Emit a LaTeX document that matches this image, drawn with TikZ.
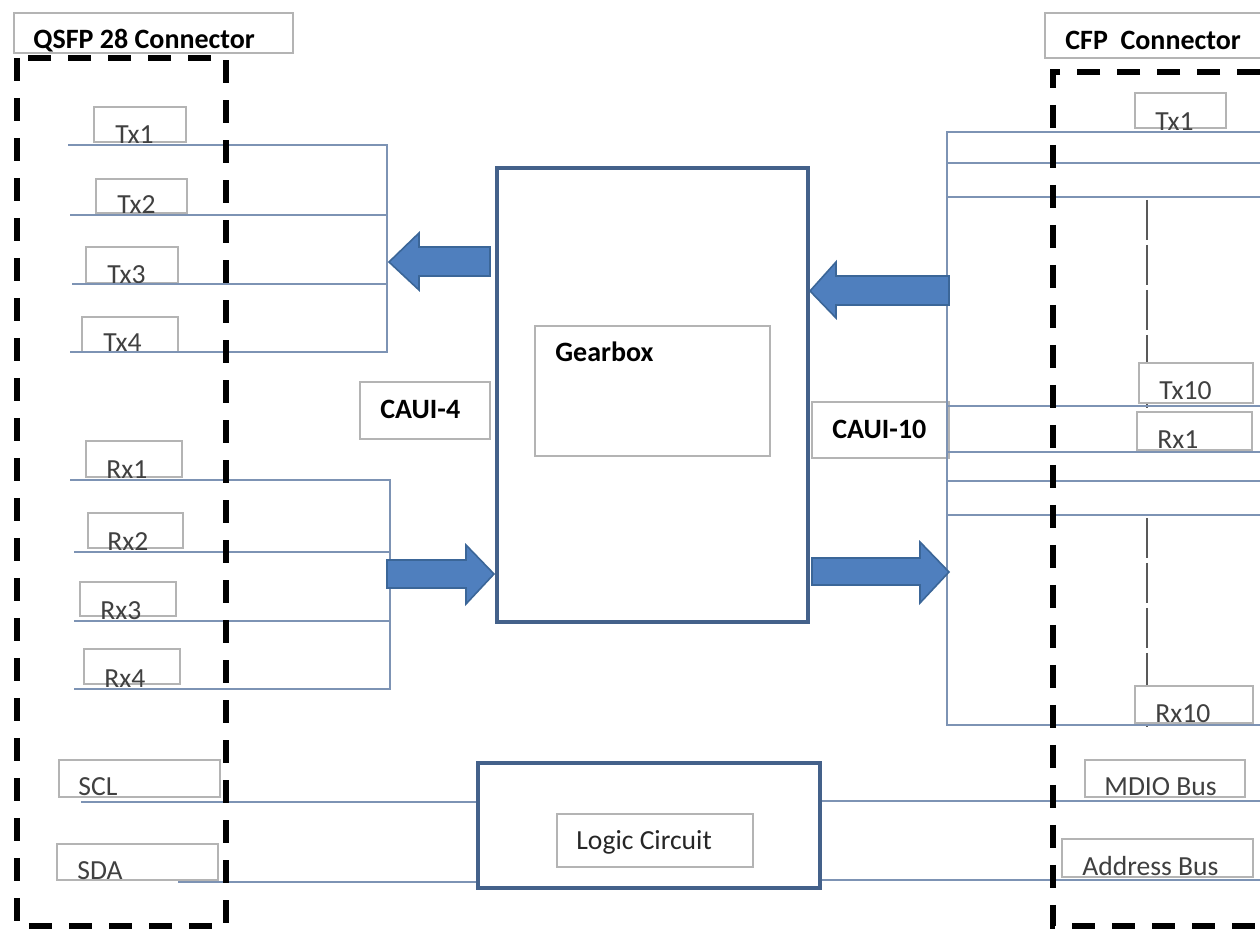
\documentclass[tikz,border=0pt]{standalone}
\usepackage{fontspec}
\setmainfont{Carlito}
\usetikzlibrary{fit}
\definecolor{buscol}{HTML}{7D93B4}
\definecolor{boxgray}{HTML}{B4B4B4}
\definecolor{heavycol}{HTML}{44618A}
\definecolor{arrowfill}{HTML}{4F7FBE}
\definecolor{arrowdraw}{HTML}{3B6698}
\definecolor{lbltext}{HTML}{404040}
\newcommand\lblbox[8]{%
  \node[lblbox,fit={(#2,#3) (#4,#5)}] (#1box) {};
  \node[lbl] (#1) at (#6,#7) {#8};}
\begin{document}
\begin{tikzpicture}[x=0.5pt,y=-0.5pt,
  lblbox/.style={draw=boxgray,fill=white,line width=0.6pt,inner sep=0pt},
  lbl/.style={text=lbltext,font=\fontsize{13.8}{15}\selectfont,inner sep=0pt,anchor=base west},
  title/.style={text=black,font=\bfseries\fontsize{14}{16}\selectfont,inner sep=0pt,anchor=base west},
  bus/.style={draw=buscol,line width=0.9pt},
  heavy/.style={draw=heavycol,line width=2.4pt,fill=white,inner sep=0pt},
  connborder/.style={draw=black,line width=2.6pt,dash pattern=on 11.5pt off 8.5pt},
  thindash/.style={draw=black!65,line width=0.6pt,dash pattern=on 20pt off 2.5pt},
  blockarrow/.style={fill=arrowfill,draw=arrowdraw,line width=0.8pt,line join=miter}]
\useasboundingbox (0,0) rectangle (1260,929);
\clip (0,0) rectangle (1260,929);
\fill[white] (0,0) rectangle (1260,929);

% thin dashed lane markers (right connector)
\draw[thindash] (1147,200) -- (1147,408);
\draw[thindash] (1147,518) -- (1147,727);

% title boxes
\node[lblbox,fit={(14,13) (293,53)}] (qsfpbox) {};
\node[title] (qsfp) at (33,49) {QSFP 28 Connector};
\node[lblbox,fit={(1045,13) (1275,58)}] (cfpbox) {};
\node[title] (cfp) at (1065,50) {CFP\ \ Connector};

% left labels
\lblbox{ltxa}{94}{107}{186}{142}{115}{144}{Tx1}
\lblbox{ltxb}{96}{179}{187}{213}{117}{214}{Tx2}
\lblbox{ltxc}{86}{247}{178}{283}{107}{284}{Tx3}
\lblbox{ltxd}{82}{317}{178}{352}{103}{352}{Tx4}
\lblbox{lrxa}{86}{441}{182}{477}{106}{479}{Rx1}
\lblbox{lrxb}{88}{513}{183}{548}{107}{551}{Rx2}
\lblbox{lrxc}{80}{582}{176}{616}{100}{620}{Rx3}
\lblbox{lrxd}{84}{649}{180}{684}{104}{688}{Rx4}
\lblbox{scl}{59}{760}{220}{797}{78}{796}{SCL}
\lblbox{sda}{57}{844}{218}{880}{77}{880}{SDA}

% right labels
\lblbox{rtxa}{1135}{93}{1226}{128}{1155}{131}{Tx1}
\lblbox{rtxj}{1139}{363}{1253}{403}{1159}{400}{Tx10}
\lblbox{rrxa}{1137}{412}{1252}{450}{1157}{449}{Rx1}
\lblbox{rrxj}{1135}{686}{1253}{723}{1155}{723}{Rx10}
\lblbox{mdio}{1085}{760}{1245}{797}{1104}{796}{MDIO Bus}
\lblbox{addr}{1062}{839}{1253}{877}{1082}{876}{Address Bus}

% CAUI labels
\node[lblbox,fit={(360,382) (490,439)}] (caui4box) {};
\node[title] (caui4) at (380,419) {CAUI-4};
\node[lblbox,fit={(812,402) (949,458)}] (caui10box) {};
\node[title] (caui10) at (832,439) {CAUI-10};

% gearbox
\node[heavy,fit={(497,168) (808,622)}] (gear) {};
\node[lblbox,fit={(535,326) (770,456)}] (gearin) {};
\node[title] (geartxt) at (555,362) {Gearbox};

% logic circuit
\node[heavy,fit={(478,763) (820,888)}] (logic) {};
\node[lblbox,fit={(557,814) (753,867)}] (logicin) {};
\node[lbl,text=black!85] (logictxt) at (576,850) {Logic Circuit};

% left bus lines (Tx)
\foreach \n/\xs/\y in {a/68/145,b/70/215,c/72/284,d/70/352}{
  \coordinate (ltxs\n) at (\xs,\y); \coordinate (ltxe\n) at (387,\y);}
\draw[bus] (ltxsa) -- (ltxea) -- (ltxed) -- (ltxsd);
\draw[bus] (ltxsb) -- (ltxeb);
\draw[bus] (ltxsc) -- (ltxec);
% left bus lines (Rx)
\foreach \n/\xs/\y in {a/70/480,b/74/552,c/74/621,d/74/689}{
  \coordinate (lrxs\n) at (\xs,\y); \coordinate (lrxe\n) at (390,\y);}
\draw[bus] (lrxsa) -- (lrxea) -- (lrxed) -- (lrxsd);
\draw[bus] (lrxsb) -- (lrxeb);
\draw[bus] (lrxsc) -- (lrxec);

% right bus lines
\foreach \n/\y in {a/132,b/163,c/197,d/406,e/452,f/481,g/515,h/725}{
  \coordinate (rj\n) at (947,\y); \coordinate (re\n) at (1265,\y);}
\draw[bus] (rea) -- (rja) -- (rjh) -- (reh);
\foreach \n in {b,c,d,e,f,g}{\draw[bus] (rj\n) -- (re\n);}

% control buses
\coordinate (sclw) at (81,802);
\coordinate (sdaw) at (178,882);
\coordinate (mdioe) at (1265,801);
\coordinate (addre) at (1265,880);
\draw[bus] (sclw) -- (sclw -| logic.west);
\draw[bus] (sdaw) -- (sdaw -| logic.west);
\draw[bus] (mdioe -| logic.east) -- (mdioe);
\draw[bus] (addre -| logic.east) -- (addre);

% block arrows
\draw[blockarrow] (490,247) -- (419,247) -- (419,233) -- (389,262) -- (419,290) -- (419,276) -- (490,276) -- cycle;
\draw[blockarrow] (949,276) -- (836,276) -- (836,262) -- (810,291) -- (836,318) -- (836,305) -- (949,305) -- cycle;
\draw[blockarrow] (387,560) -- (466,560) -- (466,545) -- (494,574) -- (466,604) -- (466,588) -- (387,588) -- cycle;
\draw[blockarrow] (812,558) -- (920,558) -- (920,542) -- (949,572) -- (920,603) -- (920,585) -- (812,585) -- cycle;

% connector outlines
\draw[connborder] (17,58) rectangle (226,926);
\draw[connborder] (1300,72) -- (1053,72) -- (1053,926) -- (1300,926);
\end{tikzpicture}
\end{document}
